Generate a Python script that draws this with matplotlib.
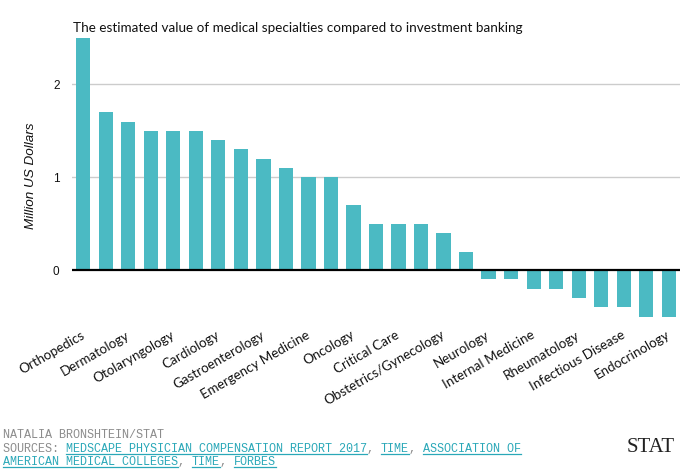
import matplotlib
matplotlib.use("Agg")
import matplotlib.pyplot as plt
from matplotlib.lines import Line2D
import numpy as np

# ---- data ----
values = [2.5, 1.7, 1.6, 1.5, 1.5, 1.5, 1.4, 1.3, 1.2, 1.1, 1.0, 1.0, 0.7,
          0.5, 0.5, 0.5, 0.4, 0.2, -0.1, -0.1, -0.2, -0.2, -0.3, -0.4, -0.4,
          -0.5, -0.5]
tick_labels = ["Orthopedics", "Dermatology", "Otolaryngology", "Cardiology",
               "Gastroenterology", "Emergency Medicine", "Oncology",
               "Critical Care", "Obstetrics/Gynecology", "Neurology",
               "Internal Medicine", "Rheumatology", "Infectious Disease",
               "Endocrinology"]
y_ticks = [0, 1, 2]
title = "The estimated value of medical specialties compared to investment banking"
ylabel = "Million US Dollars"
credit = "NATALIA BRONSHTEIN/STAT"
src_line1 = [("SOURCES: ", False), ("MEDSCAPE PHYSICIAN COMPENSATION REPORT 2017", True),
             (", ", False), ("TIME", True), (", ", False), ("ASSOCIATION OF", True)]
src_line2 = [("AMERICAN MEDICAL COLLEGES", True), (", ", False), ("TIME", True),
             (", ", False), ("FORBES", True)]

W, H = 696, 476
BAR = "#4bbac3"
GRAY = "#8c8c8c"
LINK = "#2aa8b8"

fig = plt.figure(figsize=(W / 100, H / 100), dpi=100)
fig.patch.set_facecolor("white")

def fx(px):
    return px / W

def fy(py):
    return 1 - py / H

ax = fig.add_axes([fx(72), fy(316.5), fx(680) - fx(72), fy(38) - fy(316.5)])
x = np.arange(len(values))
ax.bar(x, values, width=0.63, color=BAR, zorder=2)
ax.set_xlim(-0.5, len(values) - 0.5)
ax.set_ylim(-0.5, 2.5)
for s in ax.spines.values():
    s.set_visible(False)
for t in y_ticks:
    if t == 0:
        ax.axhline(0, color="black", lw=1.6, zorder=3)
    else:
        ax.axhline(t, color="#cccccc", lw=1.0, zorder=1)
ax.set_yticks(y_ticks)
ax.set_yticklabels([str(t) for t in y_ticks], fontsize=8.5,
                   fontfamily="Liberation Sans", color="#111111")
ax.tick_params(axis="y", length=0, pad=9)
ax.set_xticks(x[::2])
ax.set_xticklabels(tick_labels, rotation=30, ha="right", va="center",
                   rotation_mode="anchor", fontsize=9.6, fontfamily="Lato",
                   color="#111111")
ax.tick_params(axis="x", length=0, pad=12.5)
ax.set_ylabel(ylabel, fontsize=9.7, fontstyle="italic",
              fontfamily="Liberation Sans", color="#111111")
ax.yaxis.set_label_coords(-0.057, 0.505)

fig.text(fx(73), fy(32), title, fontsize=9.7, fontfamily="Lato",
         color="#111111", ha="left", va="baseline")

# ---- footer ----
fig.canvas.draw()
renderer = fig.canvas.get_renderer()
FS = 8.5
probe = fig.text(0, 0, "M" * 50, fontsize=FS, fontfamily="Liberation Mono")
adv = probe.get_window_extent(renderer).width / 50
probe.remove()

def draw_line(segments, x0, base):
    pos = x0
    for txt, link in segments:
        fig.text(fx(pos), fy(base), txt, fontsize=FS, fontfamily="Liberation Mono",
                 color=LINK if link else GRAY, ha="left", va="baseline")
        w = len(txt) * adv
        if link:
            fig.add_artist(Line2D([fx(pos), fx(pos + w)], [fy(base + 2), fy(base + 2)],
                                  transform=fig.transFigure, color=LINK, lw=0.9))
        pos += w

draw_line([(credit, False)], 3, 438.2)
draw_line(src_line1, 3, 451.6)
draw_line(src_line2, 3, 465)

fig.text(fx(627), fy(452), "STAT", fontsize=15, fontfamily="Liberation Serif",
         color="#222222", ha="left", va="baseline")

fig.savefig("out.png", dpi=100)
